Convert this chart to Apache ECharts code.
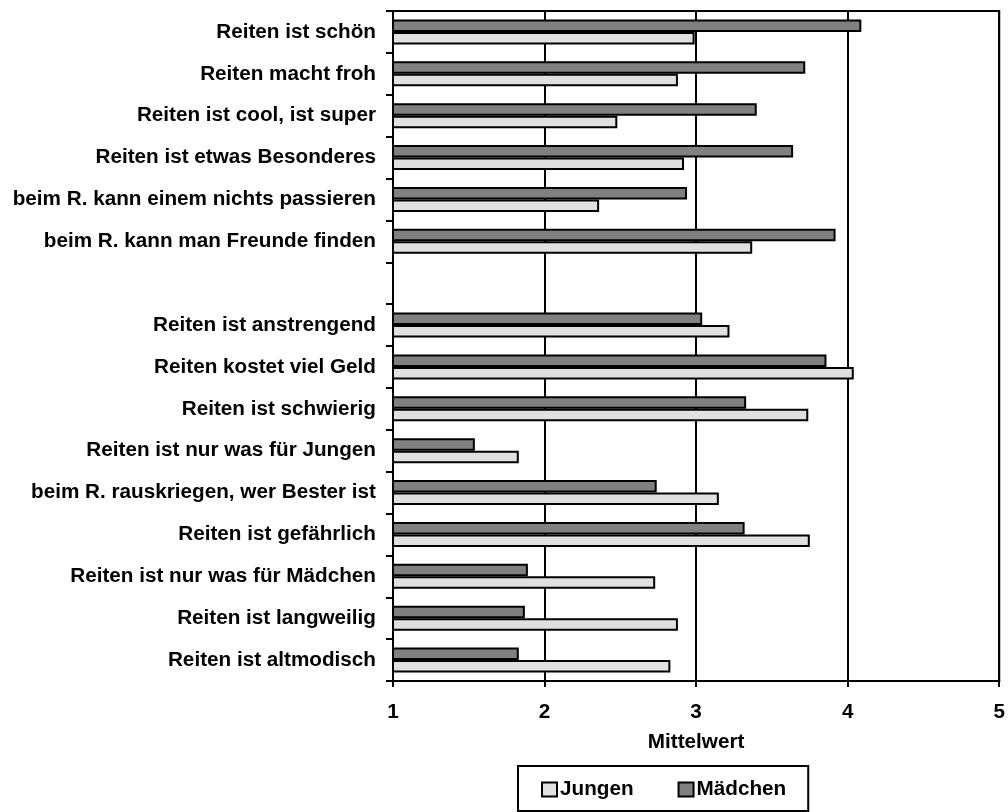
<!DOCTYPE html>
<html>
<head>
<meta charset="utf-8">
<script src="https://cdn.jsdelivr.net/npm/echarts@6/dist/echarts.min.js"></script>
<style>
  html, body { margin: 0; padding: 0; background: #fff; }
  #chart { width: 1008px; height: 812px; }
</style>
</head>
<body>
<div id="chart"></div>
<script>
// Statements about riding, top to bottom; the empty entry separates the two blocks
const categories = [
  'Reiten ist schön',
  'Reiten macht froh',
  'Reiten ist cool, ist super',
  'Reiten ist etwas Besonderes',
  'beim R. kann einem nichts passieren',
  'beim R. kann man Freunde finden',
  '',
  'Reiten ist anstrengend',
  'Reiten kostet viel Geld',
  'Reiten ist schwierig',
  'Reiten ist nur was für Jungen',
  'beim R. rauskriegen, wer Bester ist',
  'Reiten ist gefährlich',
  'Reiten ist nur was für Mädchen',
  'Reiten ist langweilig',
  'Reiten ist altmodisch'
];

// Mean ratings (scale 1–5)
const jungen   = [2.99, 2.88, 2.48, 2.92, 2.36, 3.37, null, 3.22, 4.04, 3.74, 1.83, 3.15, 3.75, 2.73, 2.88, 2.83];
const maedchen = [4.09, 3.72, 3.40, 3.64, 2.94, 3.92, null, 3.04, 3.86, 3.33, 1.54, 2.74, 3.32, 1.89, 1.87, 1.83];

const axisTicks = [1, 2, 3, 4, 5];
const axisTitle = 'Mittelwert';

const FONT = '"Liberation Sans", Arial, sans-serif';
const textStyle = { fontFamily: FONT, fontWeight: 'bold', fontSize: 20.7, color: '#000' };

const chart = echarts.init(document.getElementById('chart'), null, { renderer: 'canvas' });

chart.setOption({
  backgroundColor: '#fff',
  animation: false,
  grid: {
    left: 393, right: 8, top: 11, bottom: 131,
    show: true, borderColor: '#000', borderWidth: 2, backgroundColor: 'transparent'
  },
  legend: {
    data: ['Jungen', 'Mädchen'],
    left: 518, top: 766,
    orient: 'horizontal',
    padding: [13, 22, 11, 23],
    itemGap: 44,
    itemWidth: 15, itemHeight: 14,
    borderColor: '#000', borderWidth: 2,
    icon: 'rect',
    textStyle: Object.assign({}, textStyle, { padding: [0, 0, 0, -2] })
  },
  xAxis: {
    type: 'value',
    min: axisTicks[0], max: axisTicks[axisTicks.length - 1], interval: 1,
    name: axisTitle,
    nameLocation: 'middle',
    nameGap: 51,
    nameTextStyle: textStyle,
    axisLine: { show: true, lineStyle: { color: '#000', width: 2 } },
    axisTick: { show: true, length: 6, lineStyle: { color: '#000', width: 2 } },
    axisLabel: Object.assign({ margin: 21 }, textStyle),
    splitLine: { show: true, lineStyle: { color: '#000', width: 2 } }
  },
  yAxis: {
    type: 'category',
    data: categories,
    inverse: true,
    axisLine: { show: true, lineStyle: { color: '#000', width: 2 } },
    axisTick: { show: true, length: 7, interval: 0, lineStyle: { color: '#000', width: 2 } },
    axisLabel: Object.assign({ margin: 17, interval: 0 }, textStyle),
    splitLine: { show: false }
  },
  series: [
    {
      name: 'Mädchen',
      type: 'bar',
      data: maedchen,
      barWidth: 12.5,
      barGap: '0%',
      itemStyle: { color: '#808080', borderColor: '#000', borderWidth: 2 }
    },
    {
      name: 'Jungen',
      type: 'bar',
      data: jungen,
      barWidth: 12.5,
      barGap: '0%',
      itemStyle: { color: '#e0e0e0', borderColor: '#000', borderWidth: 2 }
    }
  ]
});
</script>
</body>
</html>
